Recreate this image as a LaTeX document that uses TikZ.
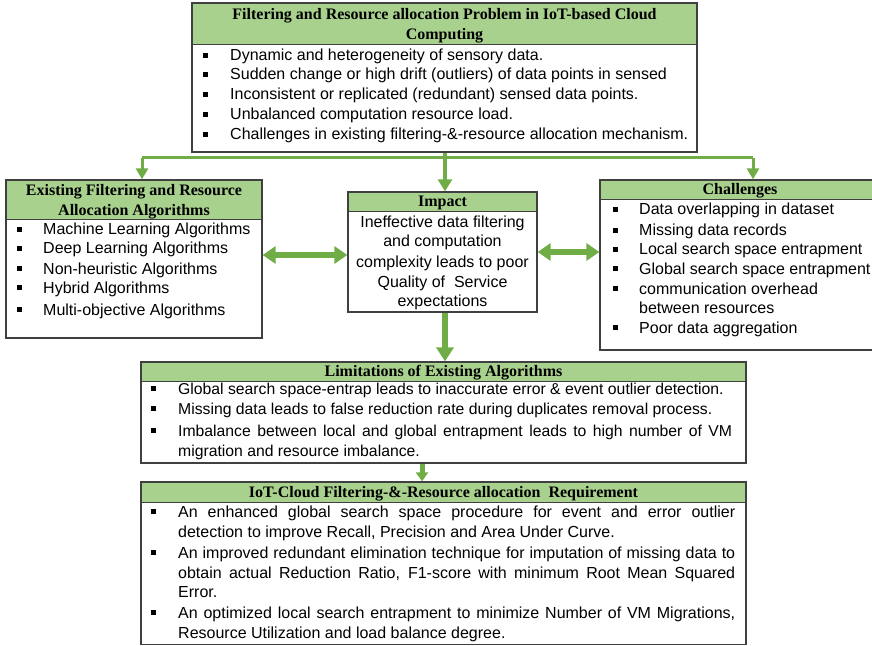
\documentclass[tikz,border=0pt]{standalone}
\usepackage{fontspec}
\setmainfont{Liberation Serif}
\newfontfamily\arialf{Liberation Sans}
\usetikzlibrary{arrows.meta,fit}
\definecolor{gline}{HTML}{70AD47}
\definecolor{ghead}{HTML}{A9D18E}
\definecolor{frame}{HTML}{404040}
\newcounter{lnc}
\newcounter{buc}
\newcommand\Ln[3]{\stepcounter{lnc}\node[body] (ln\thelnc) at (#1,#2+5) {#3};}
\newcommand\Lc[3]{\stepcounter{lnc}\node[bodyc] (ln\thelnc) at (#1,#2+5) {#3};}
\newcommand\Hd[3]{\stepcounter{lnc}\node[hdrtxt] (ln\thelnc) at (#1,#2+5) {#3};}
\newcommand\Bu[2]{\stepcounter{buc}\node[bul] (bu\thebuc) at (#1,#2-0.5) {};}
\newcommand\J[1]{\makebox[557bp][s]{#1}}
\begin{document}
\begin{tikzpicture}[x=1bp,y=-1bp,
  boxframe/.style={draw=frame, line width=1.3bp, inner sep=0},
  hdrtxt/.style={font=\fontsize{16bp}{20bp}\selectfont\bfseries, inner sep=0, anchor=base},
  body/.style={font=\arialf\fontsize{16bp}{20bp}\selectfont, inner sep=0, anchor=base west},
  bodyc/.style={font=\arialf\fontsize{16bp}{20bp}\selectfont, inner sep=0, anchor=base},
  bul/.style={fill=black, inner sep=0, minimum width=5bp, minimum height=5.5bp},
  hline/.style={draw=frame, line width=1bp},
  thinarr/.style={draw=gline, line width=3bp, -{Triangle[width=12bp,length=11bp]}},
  midarr/.style={draw=gline, line width=4.5bp, -{Triangle[width=14bp,length=12bp]}},
  bigarr/.style={draw=gline, line width=6bp, -{Triangle[width=17bp,length=14bp]}},
  smallarr/.style={draw=gline, line width=5bp, -{Triangle[width=12bp,length=9bp]}},
  dblarr/.style={draw=gline, line width=5.5bp, {Triangle[width=17bp,length=13bp]}-{Triangle[width=17bp,length=13bp]}}
]
\useasboundingbox (0,0) rectangle (872,646);
\clip (0,0) rectangle (872,646);

% ---------- boxes ----------
\fill[ghead] (192,3) rectangle (697,45);
\node[boxframe, fit={(192,3) (697,152)}] (top) {};
\draw[hline] (192,45) -- (697,45);

\fill[ghead] (6,180) rectangle (262,220);
\node[boxframe, fit={(6,180) (262,338)}] (exist) {};
\draw[hline] (6,220) -- (262,220);

\fill[ghead] (348,192) rectangle (537,212);
\node[boxframe, fit={(348,192) (537,312)}] (imp) {};
\draw[hline] (348,212) -- (537,212);

\fill[ghead] (600,180) rectangle (880,200);
\node[boxframe, fit={(600,180) (880,350)}] (chal) {};
\draw[hline] (600,200) -- (880,200);

\fill[ghead] (141,362) rectangle (746,381);
\node[boxframe, fit={(141,362) (746,463)}] (lim) {};
\draw[hline] (141,381) -- (746,381);

\fill[ghead] (141,482) rectangle (746,502);
\node[boxframe, fit={(141,482) (746,644.5)}] (req) {};
\draw[hline] (141,502) -- (746,502);

% ---------- connectors ----------
\coordinate (hub) at (445,158);
\coordinate (jl) at (142,158);
\coordinate (jr) at (753,158);
\draw[draw=gline, line width=3bp] (jl) -- (jr);
\draw[thinarr] (jl) -- (jl |- exist.north);
\draw[thinarr] (jr) -- (jr |- chal.north);
\draw[midarr] (top.south -| hub) -- (hub |- imp.north);
\draw[bigarr] (imp.south -| hub) -- (hub |- lim.north);
\coordinate (lr) at (422,470);
\draw[smallarr] (lim.south -| lr) -- (lr |- req.north);
\coordinate (d1) at (300,255);
\coordinate (d2) at (570,252);
\draw[dblarr] (exist.east |- d1) -- (imp.west |- d1);
\draw[dblarr] (imp.east |- d2) -- (chal.west |- d2);

% ---------- top box text ----------
\Hd{444.5}{15}{Filtering and Resource allocation Problem in IoT-based Cloud}
\Hd{444.5}{35}{Computing}
\Bu{205}{56}\Ln{230}{56}{Dynamic and heterogeneity of sensory data.}
\Bu{205}{75}\Ln{230}{75}{Sudden change or high drift (outliers) of data points in sensed}
\Bu{205}{95}\Ln{230}{95}{Inconsistent or replicated (redundant) sensed data points.}
\Bu{205}{115}\Ln{230}{115}{Unbalanced computation resource load.}
\Bu{205}{135}\Ln{230}{135}{Challenges in existing filtering-\&-resource allocation mechanism.}

% ---------- existing box ----------
\Hd{134}{191}{Existing Filtering and Resource}
\Hd{134}{211}{Allocation Algorithms}
\Bu{19}{230}\Ln{43}{230}{Machine Learning Algorithms}
\Bu{19}{249}\Ln{43}{249}{Deep Learning Algorithms}
\Bu{19}{269}\Ln{43}{269}{Non-heuristic Algorithms}
\Bu{19}{288}\Ln{43}{288}{Hybrid Algorithms}
\Bu{19}{310}\Ln{43}{310}{Multi-objective Algorithms}

% ---------- impact box ----------
\Hd{442.5}{202}{Impact}
\Lc{442.5}{223}{Ineffective data filtering}
\Lc{442.5}{242}{and computation}
\Lc{442.5}{262}{complexity leads to poor}
\Lc{442.5}{282}{Quality of~ Service}
\Lc{442.5}{301}{expectations}

% ---------- challenges box ----------
\Hd{740}{190}{Challenges}
\Bu{615}{210}\Ln{639}{210}{Data overlapping in dataset}
\Bu{615}{231}\Ln{639}{231}{Missing data records}
\Bu{615}{250}\Ln{639}{250}{Local search space entrapment}
\Bu{615}{269}\Ln{639}{269}{Global search space entrapment}
\Bu{615}{289}\Ln{639}{289}{communication overhead}
\Ln{639}{308}{between resources}
\Bu{615}{328}\Ln{639}{328}{Poor data aggregation}

% ---------- limitations box ----------
\Hd{443.5}{371}{Limitations of Existing Algorithms}
\Bu{153}{389}\Ln{178}{389}{\fontsize{15.75bp}{20bp}\selectfont Global search space-entrap leads to inaccurate error \& event outlier detection.}
\Bu{153}{409}\Ln{178}{409}{\fontsize{15.75bp}{20bp}\selectfont Missing data leads to false reduction rate during duplicates removal process.}
\Bu{153}{431}\Ln{178}{431}{\fontsize{15.75bp}{20bp}\selectfont\makebox[554bp][s]{Imbalance between local and global entrapment leads to high number of VM}}
\Ln{178}{451}{\fontsize{15.75bp}{20bp}\selectfont migration and resource imbalance.}

% ---------- requirement box ----------
\Hd{443.5}{492}{IoT-Cloud Filtering-\&-Resource allocation~ Requirement}
\Bu{153}{512}\Ln{178}{512}{\J{An enhanced global search space procedure for event and error outlier}}
\Ln{178}{532}{detection to improve Recall, Precision and Area Under Curve.}
\Bu{153}{553}\Ln{178}{553}{\J{An improved redundant elimination technique for imputation of missing data to}}
\Ln{178}{573}{\J{obtain actual Reduction Ratio, F1-score with minimum Root Mean Squared}}
\Ln{178}{592}{Error.}
\Bu{153}{613}\Ln{178}{613}{\J{An optimized local search entrapment to minimize Number of VM Migrations,}}
\Ln{178}{633}{Resource Utilization and load balance degree.}
\end{tikzpicture}
\end{document}
